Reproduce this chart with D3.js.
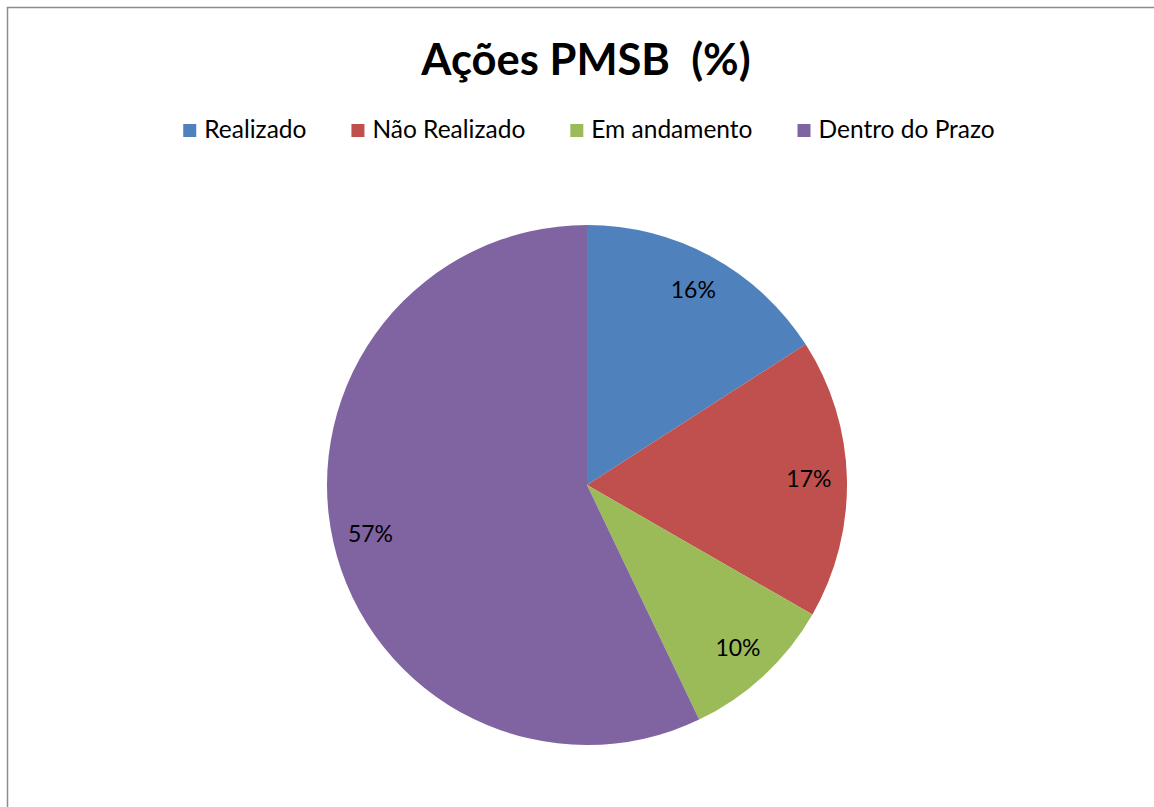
<!DOCTYPE html>
<html>
<head>
<meta charset="utf-8">
<script src="https://cdn.jsdelivr.net/npm/d3@7"></script>
<style>
  body { margin: 0; background: #fff; }
  svg { display: block; }
</style>
</head>
<body>
<div id="chart"></div>
<script>
// data
const categories = ["Realizado", "Não Realizado", "Em andamento", "Dentro do Prazo"];
const values = [15.9, 17.4, 9.6, 57.1];
const labels = ["16%", "17%", "10%", "57%"];
const colors = ["#4F81BD", "#C0504D", "#9BBB59", "#8064A2"];

const width = 1154, height = 807;
const font = "Lato, 'Open Sans', sans-serif";

let svg = d3.select("#chart").append("svg")
    .attr("width", width)
    .attr("height", height);

// chart area border (right and bottom run off the page)
svg.append("rect")
    .attr("x", 7.5)
    .attr("y", 7.5)
    .attr("width", width + 20)
    .attr("height", height + 20)
    .attr("fill", "none")
    .attr("stroke", "#8c8c8c")
    .attr("stroke-width", 1.5);

// title
svg.append("text")
    .attr("x", 586)
    .attr("y", 75)
    .attr("text-anchor", "middle")
    .style("font-family", font)
    .style("font-weight", "bold")
    .style("font-size", "43.5px")
    .attr("fill", "#000")
    .attr("xml:space", "preserve")
    .text("Ações PMSB  (%)");

// legend
let legend = svg.append("g")
    .style("font-family", font)
    .style("font-size", "24.5px");

let items = legend.selectAll("g")
    .data(categories)
    .enter().append("g");

items.append("rect")
    .attr("width", 13)
    .attr("height", 13)
    .attr("y", -14)
    .attr("fill", (d, i) => colors[i]);

items.append("text")
    .attr("x", 21)
    .attr("fill", "#000")
    .text(d => d);

// lay the items out side by side, then center the row
let xPos = 0;
items.each(function() {
    let g = d3.select(this);
    g.attr("transform", "translate(" + xPos + ",0)");
    xPos += 21 + g.select("text").node().getComputedTextLength() + 45;
});
let legendWidth = xPos - 45;
legend.attr("transform", "translate(" + (589 - legendWidth / 2) + ",138)");

// pie
let cx = 587, cy = 485, radius = 260;

let pie = d3.pie()
    .sort(null)
    .value(d => d);

let arc = d3.arc()
    .innerRadius(0)
    .outerRadius(radius);

let labelArc = d3.arc()
    .innerRadius(222)
    .outerRadius(222);

let pieGroup = svg.append("g")
    .attr("transform", "translate(" + cx + "," + cy + ")");

let slices = pieGroup.selectAll(".slice")
    .data(pie(values))
    .enter().append("g")
    .attr("class", "slice");

slices.append("path")
    .attr("d", arc)
    .attr("fill", (d, i) => colors[i]);

slices.append("text")
    .attr("transform", d => "translate(" + labelArc.centroid(d) + ")")
    .attr("text-anchor", "middle")
    .attr("dy", "0.35em")
    .style("font-family", font)
    .style("font-size", "23px")
    .attr("fill", "#000")
    .text((d, i) => labels[i]);
</script>
</body>
</html>
